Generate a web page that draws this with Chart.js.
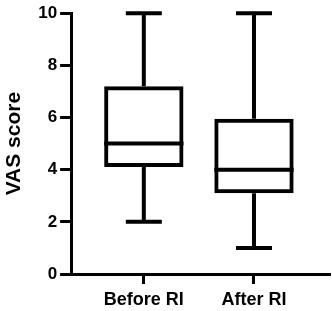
<!DOCTYPE html>
<html lang="en">
<head>
    <meta charset="UTF-8">
    <title>VAS score box plot</title>
    <script src="https://cdn.jsdelivr.net/npm/chart.js"></script>
    <style>
        html, body { margin: 0; padding: 0; background: #fff; }
        .chart-container { width: 332px; height: 311px; }
    </style>
</head>
<body>
<div class="chart-container">
    <canvas id="boxChart"></canvas>
</div>
<script>
    const categories = ['Before RI', 'After RI'];
    const positions = [1, 2];
    const mins = [2, 1];
    const q1s = [4.1, 3.1];
    const medians = [5, 4];
    const q3s = [7.2, 5.95];
    const maxs = [10, 10];
    const yTicks = [0, 2, 4, 6, 8, 10];

    const font = 'Liberation Sans, Arial, sans-serif';

    // whiskers, caps and median lines drawn on top of the floating bars
    const whiskerPlugin = {
        id: 'whiskers',
        afterDatasetsDraw(chart) {
            const { ctx, scales: { x, y } } = chart;
            const bars = chart.getDatasetMeta(0).data;
            ctx.save();
            ctx.strokeStyle = '#000';
            ctx.lineWidth = 4;
            ctx.lineCap = 'butt';
            positions.forEach((p, i) => {
                const cx = x.getPixelForValue(p);
                const half = bars[i].width / 2;
                const capHalf = 18;
                ctx.beginPath();
                // upper whisker
                ctx.moveTo(cx, y.getPixelForValue(maxs[i]));
                ctx.lineTo(cx, y.getPixelForValue(q3s[i]));
                // lower whisker
                ctx.moveTo(cx, y.getPixelForValue(q1s[i]));
                ctx.lineTo(cx, y.getPixelForValue(mins[i]));
                // caps
                ctx.moveTo(cx - capHalf, y.getPixelForValue(maxs[i]));
                ctx.lineTo(cx + capHalf, y.getPixelForValue(maxs[i]));
                ctx.moveTo(cx - capHalf, y.getPixelForValue(mins[i]));
                ctx.lineTo(cx + capHalf, y.getPixelForValue(mins[i]));
                // median
                ctx.moveTo(cx - half, y.getPixelForValue(medians[i]));
                ctx.lineTo(cx + half, y.getPixelForValue(medians[i]));
                ctx.stroke();
            });
            ctx.restore();
        }
    };

    new Chart(document.getElementById('boxChart'), {
        type: 'bar',
        data: {
            datasets: [{
                data: positions.map((p, i) => ({ x: p, y: [q1s[i], q3s[i]] })),
                backgroundColor: 'rgba(255,255,255,0)',
                borderColor: '#000',
                borderWidth: 4,
                borderSkipped: false
            }]
        },
        options: {
            responsive: true,
            maintainAspectRatio: false,
            animation: false,
            layout: { padding: { top: 2, right: 2, bottom: -5, left: 2 } },
            plugins: {
                legend: { display: false },
                tooltip: { enabled: false }
            },
            scales: {
                x: {
                    type: 'linear',
                    offset: false,
                    min: 0.34,
                    max: 2.69,
                    afterBuildTicks: axis => {
                        axis.ticks = positions.map(v => ({ value: v }));
                    },
                    ticks: {
                        callback: v => categories[positions.indexOf(v)],
                        color: '#000',
                        font: { family: font, size: 18, weight: 'bold', lineHeight: 1 },
                        padding: 7,
                        maxRotation: 0,
                        autoSkip: false
                    },
                    grid: {
                        offset: false,
                        drawOnChartArea: false,
                        tickLength: 10,
                        tickWidth: 3,
                        tickColor: '#000'
                    },
                    border: { color: '#000', width: 3 }
                },
                y: {
                    min: 0,
                    max: 10,
                    afterBuildTicks: axis => {
                        axis.ticks = yTicks.map(v => ({ value: v }));
                    },
                    ticks: {
                        color: '#000',
                        font: { family: font, size: 17, weight: 'bold' },
                        padding: 3
                    },
                    grid: {
                        drawOnChartArea: false,
                        tickLength: 11,
                        tickWidth: 3,
                        tickColor: '#000'
                    },
                    border: { color: '#000', width: 3 },
                    title: {
                        display: true,
                        text: 'VAS score',
                        color: '#000',
                        font: { family: font, size: 21, weight: 'bold' },
                        padding: { top: 0, bottom: 8 }
                    }
                }
            }
        },
        plugins: [whiskerPlugin]
    });
</script>
</body>
</html>
